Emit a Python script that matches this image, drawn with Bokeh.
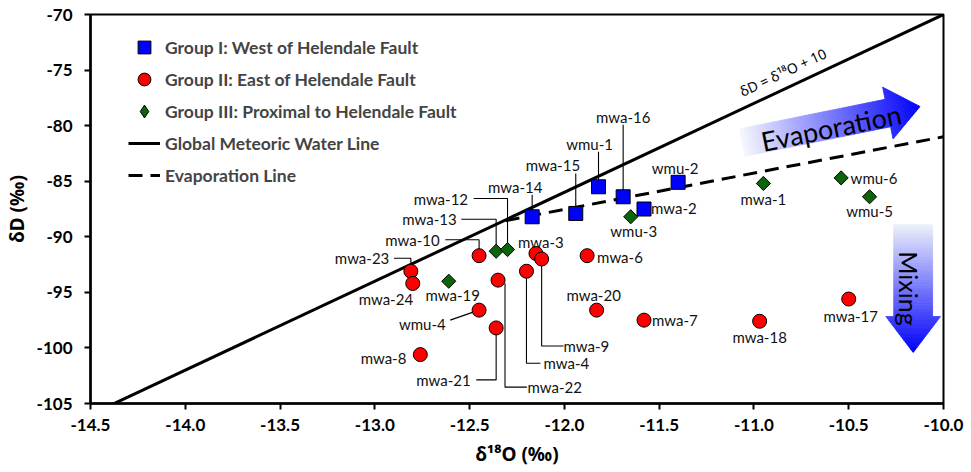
import numpy as np
from bokeh.plotting import figure
from bokeh.models import (ColumnDataSource, FixedTicker, PrintfTickFormatter,
                          Legend, LegendItem, Range1d)
from bokeh.core.properties import value
from bokeh.embed import file_html
from bokeh.resources import INLINE

# ---------------- data ----------------
g1_names = ["mwa-14", "mwa-15", "wmu-1", "mwa-16", "mwa-2", "wmu-2"]
g1_d18O = [-12.17, -11.94, -11.82, -11.69, -11.58, -11.40]
g1_dD = [-88.2, -87.9, -85.5, -86.4, -87.5, -85.1]

g2_names = ["mwa-23", "mwa-24", "mwa-10", "mwa-3", "mwa-9", "mwa-6", "mwa-4",
            "mwa-22", "wmu-4", "mwa-21", "mwa-8", "mwa-20", "mwa-7", "mwa-18", "mwa-17"]
g2_d18O = [-12.81, -12.80, -12.45, -12.15, -12.12, -11.88, -12.20,
           -12.35, -12.45, -12.36, -12.76, -11.83, -11.58, -10.97, -10.50]
g2_dD = [-93.1, -94.2, -91.7, -91.5, -92.0, -91.7, -93.1,
         -93.9, -96.6, -98.2, -100.6, -96.6, -97.5, -97.6, -95.6]

g3_names = ["mwa-19", "mwa-13", "mwa-12", "wmu-3", "mwa-1", "wmu-6", "wmu-5"]
g3_d18O = [-12.61, -12.36, -12.30, -11.65, -10.95, -10.54, -10.39]
g3_dD = [-94.0, -91.3, -91.15, -88.2, -85.2, -84.7, -86.4]

gmwl_slope = 8.0
gmwl_intercept = 10.0
evap_d18O = [-12.31, -10.0]
evap_dD = [-88.55, -81.0]

x_ticks = [-14.5, -14.0, -13.5, -13.0, -12.5, -12.0, -11.5, -11.0, -10.5, -10.0]
y_ticks = [-105, -100, -95, -90, -85, -80, -75, -70]
x_lim = (-14.5, -10.0)
y_lim = (-105.0, -70.0)

# ---------------- layout (label offsets in screen px, y down) ----------------
label_layout = {
    "mwa-16": (0, -80, [(0, 0), (0, -72)]),
    "wmu-1": (-9, -43, [(0, 0), (0, -35)]),
    "mwa-15": (-23, -48, [(0, 0), (0, -40)]),
    "mwa-14": (-17, -30, [(0, 0), (0, -22)]),
    "mwa-12": (-67, -51, [(0, 0), (0, -51), (-34, -51)]),
    "mwa-13": (-67, -32, [(0, 0), (0, -32), (-35, -32)]),
    "mwa-10": (-67, -16, [(0, 0), (0, -16), (-34, -16)]),
    "mwa-23": (-49, -13, [(0, 0), (0, -13), (-17, -13)]),
    "mwa-24": (-27, 16, None),
    "mwa-19": (4, 14, None),
    "wmu-4": (-57, 14, [(-6, 2), (-29, 10)]),
    "mwa-8": (-37, 3, None),
    "mwa-21": (-53, 52, [(0, 0), (0, 52), (-20, 52)]),
    "mwa-22": (57, 107, [(7, 3), (7, 107), (29, 107)]),
    "mwa-4": (40, 92, [(0, 0), (0, 92), (14, 92)]),
    "mwa-9": (45, 87, [(0, 0), (0, 87), (22, 87)]),
    "mwa-3": (5, -11, None),
    "mwa-6": (33, 1, None),
    "mwa-20": (-3, -15, None),
    "mwa-7": (31, 0, None),
    "mwa-18": (0, 16, None),
    "mwa-17": (2, 17, None),
    "wmu-2": (-3, -14, None),
    "mwa-2": (30, -1, None),
    "wmu-3": (3, 14, None),
    "mwa-1": (0, 16, None),
    "wmu-6": (33, 0, None),
    "wmu-5": (0, 14, None),
}

W, H = 968, 472
ML, MR, MT, MB = 86, 25, 14, 69
FW = W - ML - MR
FH = H - MT - MB
sx = FW / (x_lim[1] - x_lim[0])
sy = FH / (y_lim[1] - y_lim[0])

p = figure(width=W, height=H, x_range=Range1d(*x_lim), y_range=Range1d(*y_lim),
           output_backend="svg", toolbar_location=None,
           min_border_left=ML, min_border_right=MR, min_border_top=MT, min_border_bottom=MB)
p.grid.visible = False
p.outline_line_color = "black"
p.outline_line_width = 2
p.background_fill_color = "white"
p.border_fill_color = "white"

# ---------------- lines ----------------
gx = np.array(x_lim)
gy = gmwl_slope * gx + gmwl_intercept
l_gmwl = p.line(gx, gy, line_color="black", line_width=3)
l_evap = p.line(evap_d18O, evap_dD, line_color="black", line_width=3, line_dash="14 8")


# ---------------- gradient arrows ----------------
def gradient_arrow(tail, tip, body_w, head_w, head_len, c0, c1, n_body=60, n_head=20):
    tx, ty = (tail[0] - x_lim[0]) * sx, (tail[1] - y_lim[0]) * sy
    px, py = (tip[0] - x_lim[0]) * sx, (tip[1] - y_lim[0]) * sy
    L = np.hypot(px - tx, py - ty)
    ux, uy = (px - tx) / L, (py - ty) / L
    nx, ny = -uy, ux
    us = list(np.linspace(0, L - head_len, n_body + 1)) + list(np.linspace(L - head_len, L, n_head + 1))[1:]
    xs, ys, cols = [], [], []
    for i in range(len(us) - 1):
        u0, u1 = us[i], us[i + 1]
        if u0 >= L - head_len - 1e-9:
            h0, h1 = head_w / 2 * (L - u0) / head_len, head_w / 2 * (L - u1) / head_len
        else:
            h0 = h1 = body_w / 2
        pts = [(u0, -h0), (u1, -h1), (u1, h1), (u0, h0)]
        qx = [(tx + u * ux + v * nx) / sx + x_lim[0] for u, v in pts]
        qy = [(ty + u * uy + v * ny) / sy + y_lim[0] for u, v in pts]
        t = (u0 + u1) / 2 / L
        c = tuple(int(round(a * (1 - t) + b * t)) for a, b in zip(c0, c1))
        xs.append(qx)
        ys.append(qy)
        cols.append("#%02x%02x%02x" % c)
    p.patches(xs, ys, fill_color=cols, line_color=cols, line_width=0.8)


gradient_arrow((-11.061, -81.52), (-10.124, -78.28), 28, 53, 33,
               (246, 248, 253), (0, 0, 250))
gradient_arrow((-10.160, -88.90), (-10.160, -100.41), 39, 55, 36,
               (238, 242, 250), (0, 0, 250))

# ---------------- leader lines ----------------
all_names = g1_names + g2_names + g3_names
all_x = g1_d18O + g2_d18O + g3_d18O
all_y = g1_dD + g2_dD + g3_dD
lead_xs, lead_ys = [], []
lab_x, lab_y, lab_t = [], [], []
for nm, x, y in zip(all_names, all_x, all_y):
    dx, dy, lead = label_layout[nm]
    lab_x.append(x + dx / sx)
    lab_y.append(y - dy / sy)
    lab_t.append(nm)
    if lead:
        lead_xs.append([x + ox / sx for ox, oy in lead])
        lead_ys.append([y - oy / sy for ox, oy in lead])
p.multi_line(lead_xs, lead_ys, line_color="black", line_width=1.1)

# ---------------- markers ----------------
s1 = ColumnDataSource(dict(x=g1_d18O, y=g1_dD))
s2 = ColumnDataSource(dict(x=g2_d18O, y=g2_dD))
s3 = ColumnDataSource(dict(x=g3_d18O, y=g3_dD))
r1 = p.scatter("x", "y", source=s1, marker="square", size=14, fill_color="#0000FF",
               line_color="black", line_width=1)
r2 = p.scatter("x", "y", source=s2, marker="circle", size=14, fill_color="#FF0000",
               line_color="black", line_width=1)
# legend stand-in for the diamonds (legend glyphs ignore marker rotation);
# drawn tiny and hidden underneath the rotated squares
r3_leg = p.scatter("x", "y", source=s3, marker="diamond", size=1, fill_color="#0B640B",
                   line_color="black", line_width=1)
r3 = p.scatter("x", "y", source=s3, marker="square", angle=np.pi / 4, size=10,
               fill_color="#0B640B", line_color="black", line_width=1)

# ---------------- point labels ----------------
p.text(x=lab_x, y=lab_y, text=lab_t, text_font=value("Lato"), text_font_size="15px",
       text_align="center", text_baseline="middle", text_color="#111111")

# ---------------- annotations text ----------------
gmwl_angle = np.arctan(gmwl_slope * sy / sx)
p.text(x=[-10.847], y=[-75.19], text=["δD = δ¹⁸O + 10"], angle=gmwl_angle,
       text_font=value("Noto Sans"), text_font_size="14px",
       text_align="center", text_baseline="middle", text_color="black")
p.text(x=[-10.593], y=[-80.17], text=["Evaporation"], angle=np.radians(11.5),
       text_font=value("Lato"), text_font_size="27px",
       text_align="center", text_baseline="middle", text_color="black")
p.text(x=[-10.184], y=[-94.65], text=["Mixing"], angle=-np.pi / 2,
       text_font=value("Lato"), text_font_size="25px",
       text_align="center", text_baseline="middle", text_color="black")

# ---------------- legend ----------------
legend = Legend(items=[
    LegendItem(label="Group I: West of Helendale Fault", renderers=[r1]),
    LegendItem(label="Group II: East of Helendale Fault", renderers=[r2]),
    LegendItem(label="Group III: Proximal to Helendale Fault", renderers=[r3_leg]),
    LegendItem(label="Global Meteoric Water Line", renderers=[l_gmwl]),
    LegendItem(label="Evaporation Line", renderers=[l_evap]),
], location=(38, 212), glyph_width=32, glyph_height=32, spacing=0, padding=0, margin=0,
    label_standoff=5, label_text_font="Lato", label_text_font_style="bold",
    label_text_font_size="17.5px", border_line_color=None, background_fill_alpha=0)
p.add_layout(legend)

# ---------------- axes ----------------
p.xaxis.ticker = FixedTicker(ticks=x_ticks)
p.yaxis.ticker = FixedTicker(ticks=y_ticks)
p.xaxis.formatter = PrintfTickFormatter(format="%.1f")
p.yaxis.formatter = PrintfTickFormatter(format="%d")
p.xaxis.axis_label = "δ¹⁸O (‰)"
p.yaxis.axis_label = "δD (‰)"
for ax in (p.xaxis, p.yaxis):
    ax.axis_line_width = 2.5
    ax.axis_line_color = "black"
    ax.major_tick_line_width = 2
    ax.major_tick_line_color = "black"
    ax.major_tick_in = 0
    ax.major_tick_out = 6
    ax.minor_tick_line_color = None
    ax.major_label_text_font = "Lato"
    ax.major_label_text_font_style = "bold"
    ax.major_label_text_font_size = "17px"
    ax.major_label_text_color = "black"
    ax.axis_label_text_font = "Noto Sans"
    ax.axis_label_text_font_style = "bold"
    ax.axis_label_text_font_size = "19px"
    ax.axis_label_text_color = "black"
p.xaxis.major_label_standoff = 9
p.xaxis.axis_label_standoff = 7
p.yaxis.major_label_standoff = 12
p.yaxis.axis_label_standoff = 4

open("out.html", "w").write(file_html(p, INLINE))
